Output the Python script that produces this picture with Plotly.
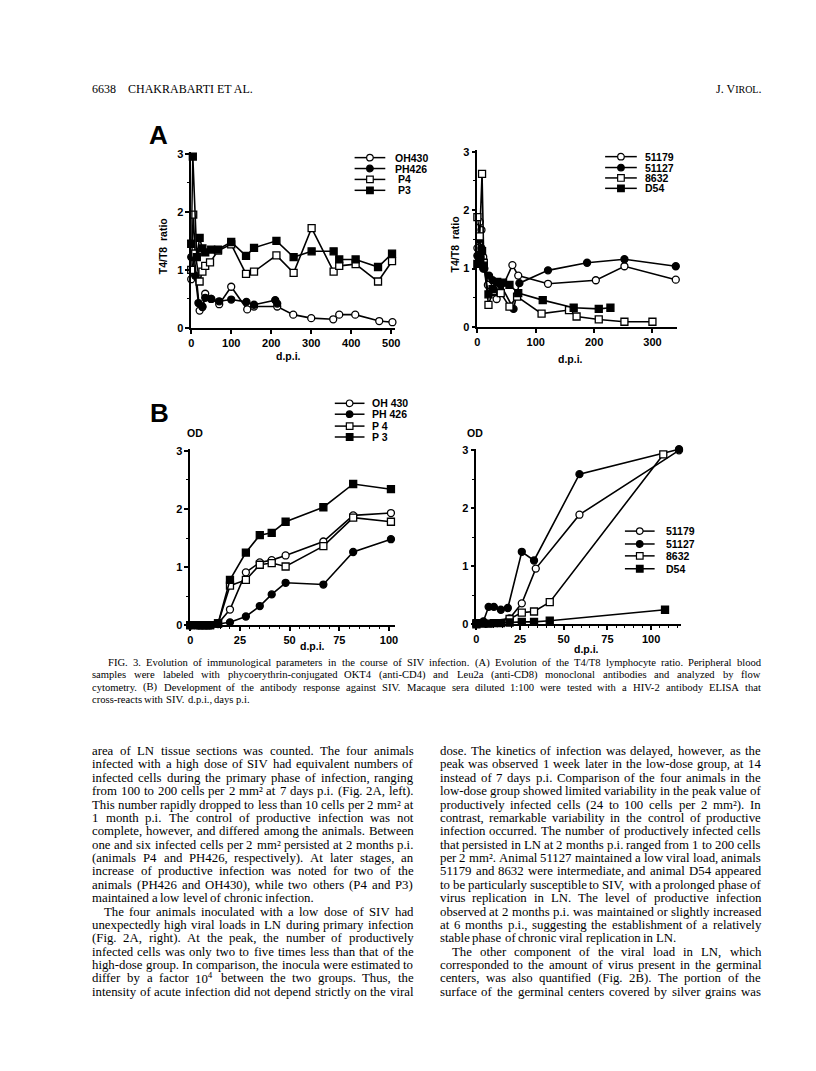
import re
import plotly.graph_objects as go

W, H = 816, 1071

# ---------------- DATA ----------------
# Panel A (left): T4/T8 ratio, high-dose group
a1_oh430_x = [0, 7, 21, 28, 35, 50, 70, 100, 140, 157, 215, 255, 300, 355, 370, 410, 470, 503]
a1_oh430_y = [0.84, 1.28, 0.30, 0.36, 0.59, 0.50, 0.41, 0.71, 0.32, 0.37, 0.37, 0.23, 0.17, 0.15, 0.23, 0.23, 0.12, 0.10]
a1_ph426_x = [0, 4, 10, 18, 28, 35, 50, 70, 100, 138, 157, 210, 215]
a1_ph426_y = [1.22, 1.25, 0.90, 0.43, 0.37, 0.52, 0.50, 0.46, 0.49, 0.45, 0.40, 0.48, 0.42]
a1_p4_x = [0, 5, 10, 21, 28, 35, 47, 67, 100, 137, 157, 213, 256, 301, 356, 370, 411, 467, 502]
a1_p4_y = [1.00, 1.95, 1.28, 0.80, 0.97, 1.07, 1.13, 1.33, 1.44, 0.93, 0.97, 1.25, 0.95, 1.72, 0.97, 1.07, 1.10, 0.80, 1.15]
a1_p3_x = [0, 4, 14, 21, 28, 35, 50, 67, 100, 137, 157, 213, 256, 301, 356, 370, 411, 467, 502]
a1_p3_y = [1.45, 2.95, 1.22, 1.55, 1.37, 1.30, 1.35, 1.35, 1.48, 1.24, 1.38, 1.50, 1.22, 1.32, 1.32, 1.18, 1.18, 1.05, 1.28]

# Panel A (right): T4/T8 ratio, low-dose group
a2_51179_x = [0, 4, 7, 10, 18, 26, 33, 40, 60, 70, 121, 203, 252, 340]
a2_51179_y = [1.35, 1.80, 1.66, 1.20, 0.72, 0.60, 0.48, 0.62, 1.06, 0.88, 0.74, 0.80, 1.04, 0.81]
a2_51127_x = [0, 3, 7, 10, 12, 20, 26, 40, 62, 72, 121, 188, 252, 340]
a2_51127_y = [1.22, 1.50, 1.35, 1.00, 1.00, 0.88, 0.80, 0.72, 0.31, 0.75, 0.97, 1.10, 1.16, 1.04]
a2_8632_x = [0, 4, 8, 11, 19, 27, 40, 55, 68, 110, 157, 170, 208, 252, 300]
a2_8632_y = [1.88, 1.55, 2.62, 1.10, 0.38, 0.62, 0.58, 0.35, 0.52, 0.23, 0.29, 0.18, 0.13, 0.09, 0.09]
a2_d54_x = [0, 5, 8, 11, 19, 26, 34, 44, 55, 70, 112, 165, 208, 228]
a2_d54_y = [1.08, 1.15, 1.30, 1.05, 0.56, 0.65, 0.77, 0.76, 0.72, 0.58, 0.46, 0.33, 0.31, 0.33]

# Panel B (left): antibody OD, high-dose group
b1_x = [0, 4, 6, 8, 10, 14, 20, 28, 35, 41, 48, 67, 82, 101]
b1_oh430_y = [0, 0, 0, 0, 0, 0.03, 0.27, 0.91, 1.08, 1.12, 1.20, 1.44, 1.89, 1.93]
b1_ph426_y = [0, 0, 0, 0, 0, 0.02, 0.05, 0.15, 0.33, 0.53, 0.73, 0.70, 1.26, 1.48]
b1_p4_y = [0, 0, 0, 0, 0, 0.03, 0.68, 0.78, 1.04, 1.07, 1.01, 1.36, 1.85, 1.78]
b1_p3_y = [0, 0, 0, 0, 0, 0.03, 0.78, 1.25, 1.55, 1.59, 1.78, 2.03, 2.43, 2.34]

# Panel B (right): antibody OD, low-dose group
b2_51179_x = [0, 19, 26, 34, 59, 116]
b2_51179_y = [0.02, 0.10, 0.36, 0.96, 1.89, 3.00]
b2_51127_x = [0, 4, 7, 10, 14, 18, 26, 33, 59, 116]
b2_51127_y = [0.02, 0.05, 0.30, 0.30, 0.25, 0.28, 1.25, 1.10, 2.59, 3.02]
b2_8632_x = [0, 19, 26, 33, 42, 107]
b2_8632_y = [0.02, 0.09, 0.20, 0.22, 0.38, 2.93]
b2_d54_x = [0, 4, 7, 10, 14, 19, 26, 33, 42, 108]
b2_d54_y = [0, 0.01, 0.01, 0.02, 0.02, 0.03, 0.04, 0.04, 0.06, 0.25]

legend_a1 = ["OH430", "PH426", "P4", "P3"]
legend_a2 = ["51179", "51127", "8632", "D54"]
legend_b1 = ["OH 430", "PH 426", "P 4", "P 3"]
legend_b2 = ["51179", "51127", "8632", "D54"]

# ---------------- HELPERS ----------------
def fx(x):
    return x / W

def fy(y):
    return 1 - y / H

SYMS = [("circle-open", "white"), ("circle", "black"), ("square-open", "white"), ("square", "black")]
SANS = "Liberation Sans, Arial, sans-serif"
SERIF = "Liberation Serif, Times New Roman, serif"

fig = go.Figure()

def add_series(xs, ys, idx, xa, ya):
    sym, fill = SYMS[idx]
    base = sym.replace("-open", "")
    fig.add_trace(go.Scatter(
        x=xs, y=ys, mode="lines+markers", xaxis=xa, yaxis=ya, showlegend=False,
        line=dict(color="black", width=1.6),
        marker=dict(symbol=base, size=7, color=fill, line=dict(color="black", width=1.3)),
        cliponaxis=False))

add_series(a1_oh430_x, a1_oh430_y, 0, "x", "y")
add_series(a1_ph426_x, a1_ph426_y, 1, "x", "y")
add_series(a1_p4_x, a1_p4_y, 2, "x", "y")
add_series(a1_p3_x, a1_p3_y, 3, "x", "y")

add_series(a2_51179_x, a2_51179_y, 0, "x2", "y2")
add_series(a2_51127_x, a2_51127_y, 1, "x2", "y2")
add_series(a2_8632_x, a2_8632_y, 2, "x2", "y2")
add_series(a2_d54_x, a2_d54_y, 3, "x2", "y2")

add_series(b1_x, b1_oh430_y, 0, "x3", "y3")
add_series(b1_x, b1_ph426_y, 1, "x3", "y3")
add_series(b1_x, b1_p4_y, 2, "x3", "y3")
add_series(b1_x, b1_p3_y, 3, "x3", "y3")

add_series(b2_51179_x, b2_51179_y, 0, "x4", "y4")
add_series(b2_51127_x, b2_51127_y, 1, "x4", "y4")
add_series(b2_8632_x, b2_8632_y, 2, "x4", "y4")
add_series(b2_d54_x, b2_d54_y, 3, "x4", "y4")

tickfont = dict(family=SANS, size=11, color="black", weight="bold")

def xaxis(px0, px1, rng, dtick, minor=None, anchor="y"):
    d = dict(domain=[fx(px0), fx(px1)], range=rng, anchor=anchor, showline=True, linecolor="black",
             linewidth=1.5, ticks="outside", ticklen=4, tickwidth=1.5, tickcolor="black",
             tick0=0, dtick=dtick, showgrid=False, zeroline=False, tickfont=tickfont)
    if minor:
        d["minor"] = dict(dtick=minor, ticks="outside", ticklen=2.5, tickwidth=1, tickcolor="black", showgrid=False)
    return d

def yaxis(py_top, py_bot, rng, anchor):
    return dict(domain=[fy(py_bot), fy(py_top)], range=rng, anchor=anchor, showline=True, linecolor="black",
                linewidth=1.5, ticks="outside", ticklen=4, tickwidth=1.5, tickcolor="black",
                tick0=0, dtick=1, showgrid=False, zeroline=False, tickfont=tickfont,
                minor=dict(dtick=0.5, ticks="outside", ticklen=2.5, tickwidth=1, tickcolor="black", showgrid=False))

layout = dict(
    width=W, height=H, margin=dict(l=0, r=0, t=0, b=0),
    paper_bgcolor="white", plot_bgcolor="white", showlegend=False,
    xaxis=xaxis(182, 182 + 510 * 0.404, [0, 510], 100, anchor="y"),
    yaxis=yaxis(319 - 3.03 * 58.67, 319, [0, 3.03], "x"),
    xaxis2=xaxis(471, 471 + 342 * 0.5893, [0, 342], 100, anchor="y2"),
    yaxis2=yaxis(318 - 3.03 * 59.0, 318, [0, 3.03], "x2"),
    xaxis3=xaxis(181, 181 + 103 * 2.007, [0, 103], 25, minor=5, anchor="y3"),
    yaxis3=yaxis(619 - 3.03 * 58.67, 619, [0, 3.03], "x3"),
    xaxis4=xaxis(470, 470 + 117 * 1.764, [0, 117], 25, minor=5, anchor="y4"),
    yaxis4=yaxis(618 - 3.03 * 58.5, 618, [0, 3.03], "x4"),
)
fig.update_layout(**layout)

annotations = []
shapes = []

def text(x, y, s, size, family=SANS, bold=True, xanchor="left", angle=0):
    annotations.append(dict(x=fx(x), y=fy(y), xref="paper", yref="paper", text=s, showarrow=False,
                            xanchor=xanchor, yanchor="middle", textangle=angle, borderpad=0, borderwidth=0,
                            font=dict(family=family, size=size, color="black", weight="bold" if bold else "normal")))

def legend(names, lx0, lx1, tx, rows, offsets=None):
    for i, (name, y) in enumerate(zip(names, rows)):
        sym, fill = SYMS[i]
        shapes.append(dict(type="line", xref="paper", yref="paper", x0=fx(lx0), x1=fx(lx1), y0=fy(y), y1=fy(y),
                           line=dict(color="black", width=1.5)))
        xc = (lx0 + lx1) / 2
        shapes.append(dict(type="circle" if "circle" in sym else "rect", xref="paper", yref="paper",
                           xsizemode="pixel", ysizemode="pixel", xanchor=fx(xc), yanchor=fy(y),
                           x0=-3.3, x1=3.3, y0=-3.3, y1=3.3, fillcolor=fill,
                           line=dict(color="black", width=1.2)))
        dx = offsets[i] if offsets else 0
        text(tx + dx, y, name, 10.5)

legend(legend_a1, 347, 378, 388, [147, 158, 169, 180], offsets=[0, 0, 3, 3])
legend(legend_a2, 600, 632, 640, [146, 157, 167.5, 178])
legend(legend_b1, 327, 357, 365, [395, 406, 418, 429])
legend(legend_b2, 620, 650, 661, [524, 537, 549, 562])

# Panel letters and axis titles
text(149, 124, "A", 26, xanchor="center")
text(150, 405, "B", 26, xanchor="center")
text(153, 237, "T4/T8  ratio", 10.5, xanchor="center", angle=-90)
text(448, 235, "T4/T8  ratio", 10.5, xanchor="center", angle=-90)
text(280, 347, "d.p.i.", 10.5, xanchor="center")
text(565, 350, "d.p.i.", 10.5, xanchor="center")
text(304, 640, "d.p.i.", 10.5, xanchor="center")
text(581, 643, "d.p.i.", 10.5, xanchor="center")
text(186, 425, "OD", 10.5, xanchor="center")
text(469, 425, "OD", 10.5, xanchor="center")

# ---------------- Justified serif text (Times metrics, per 1000 em) ----------------
TW = {' ': 250, '!': 333, '(': 333, ')': 333, ',': 250, '-': 333, '.': 250, '/': 278, ':': 278, ';': 278,
      '0': 500, '1': 500, '2': 500, '3': 500, '4': 500, '5': 500, '6': 500, '7': 500, '8': 500, '9': 500,
      '\u00b2': 300,
      'A': 722, 'B': 667, 'C': 667, 'D': 722, 'E': 611, 'F': 556, 'G': 722, 'H': 722, 'I': 333, 'J': 389,
      'K': 722, 'L': 611, 'M': 889, 'N': 722, 'O': 722, 'P': 556, 'Q': 722, 'R': 667, 'S': 556, 'T': 611,
      'U': 722, 'V': 722, 'W': 944, 'X': 722, 'Y': 722, 'Z': 611,
      'a': 444, 'b': 500, 'c': 444, 'd': 500, 'e': 444, 'f': 333, 'g': 500, 'h': 500, 'i': 278, 'j': 278,
      'k': 500, 'l': 278, 'm': 778, 'n': 500, 'o': 500, 'p': 500, 'q': 500, 'r': 333, 's': 389, 't': 278,
      'u': 500, 'v': 500, 'w': 722, 'x': 500, 'y': 500, 'z': 444}

def word_w(w, size):
    tot = 0.0
    for part in re.split(r"(<sup>.*?</sup>)", w):
        if part.startswith("<sup>"):
            tot += 0.7 * sum(TW.get(c, 500) for c in part[5:-6]) + 150
        else:
            tot += sum(TW.get(c, 500) for c in part)
    return tot * size / 1000.0

def set_line(x0, x1, y, line, size, justify=True):
    words = line.split()
    ws = [word_w(w, size) for w in words]
    space = 0.25 * size
    if justify and len(words) > 1:
        gap = (x1 - x0 - sum(ws)) / (len(words) - 1)
        gap = max(gap, 0.15 * size)
    else:
        gap = space
    x = x0
    for w, wd in zip(words, ws):
        text(x, y, w, size, family=SERIF, bold=False)
        x += wd + gap

# Header
HY = 78
text(82, HY, "6638", 12, family=SERIF, bold=False)
text(118, HY, "CHAKRABARTI ET AL.", 12, family=SERIF, bold=False)
text(757, HY, "J. V<span style='font-size:10px'>IROL</span>.", 12, family=SERIF, bold=False, xanchor="right")

# Caption (justified lines, last line ragged)
LM, RM = 82, 757
caption = [
    (98, "FIG. 3. Evolution of immunological parameters in the course of SIV infection. (A) Evolution of the T4/T8 lymphocyte ratio. Peripheral blood", True),
    (LM, "samples were labeled with phycoerythrin-conjugated OKT4 (anti-CD4) and Leu2a (anti-CD8) monoclonal antibodies and analyzed by flow", True),
    (LM, "cytometry. (B) Development of the antibody response against SIV. Macaque sera diluted 1:100 were tested with a HIV-2 antibody ELISA that", True),
    (LM, "cross-reacts with SIV. d.p.i., days p.i.", False),
]
for i, (x, s, j) in enumerate(caption):
    set_line(x, RM, 657 + i * 12.2, s, 10.6, justify=j)

left_col = [
    ("area of LN tissue sections was counted. The four animals", True, 0),
    ("infected with a high dose of SIV had equivalent numbers of", True, 0),
    ("infected cells during the primary phase of infection, ranging", True, 0),
    ("from 100 to 200 cells per 2 mm\u00b2 at 7 days p.i. (Fig. 2A, left).", True, 0),
    ("This number rapidly dropped to less than 10 cells per 2 mm\u00b2 at", True, 0),
    ("1 month p.i. The control of productive infection was not", True, 0),
    ("complete, however, and differed among the animals. Between", True, 0),
    ("one and six infected cells per 2 mm\u00b2 persisted at 2 months p.i.", True, 0),
    ("(animals P4 and PH426, respectively). At later stages, an", True, 0),
    ("increase of productive infection was noted for two of the", True, 0),
    ("animals (PH426 and OH430), while two others (P4 and P3)", True, 0),
    ("maintained a low level of chronic infection.", False, 0),
    ("The four animals inoculated with a low dose of SIV had", True, 12),
    ("unexpectedly high viral loads in LN during primary infection", True, 0),
    ("(Fig. 2A, right). At the peak, the number of productively", True, 0),
    ("infected cells was only two to five times less than that of the", True, 0),
    ("high-dose group. In comparison, the inocula were estimated to", True, 0),
    ("differ by a factor 10<sup>4</sup> between the two groups. Thus, the", True, 0),
    ("intensity of acute infection did not depend strictly on the viral", True, 0),
]
right_col = [
    ("dose. The kinetics of infection was delayed, however, as the", True, 0),
    ("peak was observed 1 week later in the low-dose group, at 14", True, 0),
    ("instead of 7 days p.i. Comparison of the four animals in the", True, 0),
    ("low-dose group showed limited variability in the peak value of", True, 0),
    ("productively infected cells (24 to 100 cells per 2 mm\u00b2). In", True, 0),
    ("contrast, remarkable variability in the control of productive", True, 0),
    ("infection occurred. The number of productively infected cells", True, 0),
    ("that persisted in LN at 2 months p.i. ranged from 1 to 200 cells", True, 0),
    ("per 2 mm\u00b2. Animal 51127 maintained a low viral load, animals", True, 0),
    ("51179 and 8632 were intermediate, and animal D54 appeared", True, 0),
    ("to be particularly susceptible to SIV, with a prolonged phase of", True, 0),
    ("virus replication in LN. The level of productive infection", True, 0),
    ("observed at 2 months p.i. was maintained or slightly increased", True, 0),
    ("at 6 months p.i., suggesting the establishment of a relatively", True, 0),
    ("stable phase of chronic viral replication in LN.", False, 0),
    ("The other component of the viral load in LN, which", True, 12),
    ("corresponded to the amount of virus present in the germinal", True, 0),
    ("centers, was also quantified (Fig. 2B). The portion of the", True, 0),
    ("surface of the germinal centers covered by silver grains was", True, 0),
]
BODY_Y0, BODY_DY, BODY_FS = 746, 13.5, 12.8
COLS = [(82, 406), (433, 757)]
for col, lines in zip(COLS, [left_col, right_col]):
    for i, (s, j, ind) in enumerate(lines):
        set_line(col[0] + ind, col[1], BODY_Y0 + i * BODY_DY, s, BODY_FS, justify=j)

fig.update_layout(annotations=annotations, shapes=shapes)
fig.write_html("out.html")
